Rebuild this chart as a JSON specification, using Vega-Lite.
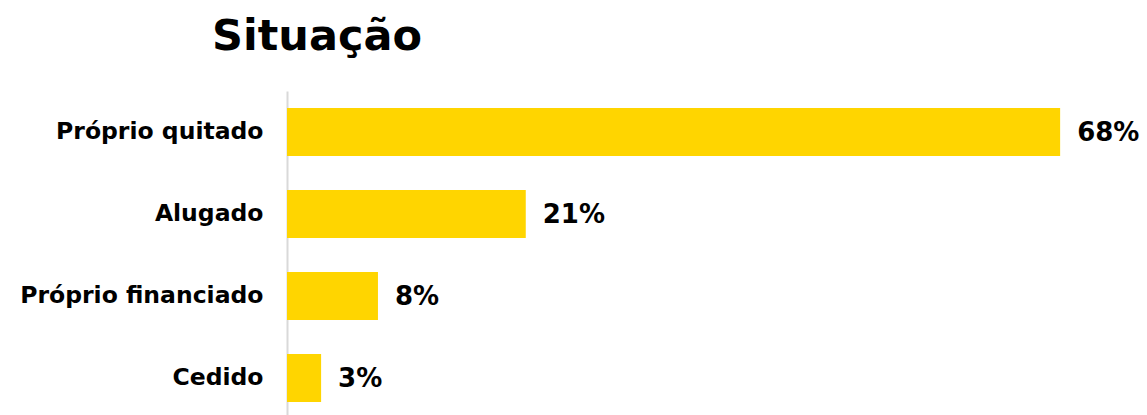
{
  "$schema": "https://vega.github.io/schema/vega-lite/v6.json",
  "autosize": "none",
  "padding": {"left": 287, "top": 91, "right": 0, "bottom": 0},
  "width": 860,
  "height": 328,
  "background": "white",
  "title": {
    "text": "Situação",
    "anchor": "start",
    "frame": "group",
    "dx": -75,
    "offset": -2,
    "baseline": "alphabetic",
    "font": "DejaVu Sans",
    "fontSize": 43,
    "fontWeight": "bold",
    "color": "#000000"
  },
  "data": {
    "values": [
      {"situacao": "Próprio quitado", "share": 0.68},
      {"situacao": "Alugado", "share": 0.21},
      {"situacao": "Próprio financiado", "share": 0.08},
      {"situacao": "Cedido", "share": 0.03}
    ]
  },
  "encoding": {
    "y": {
      "field": "situacao",
      "type": "nominal",
      "sort": null,
      "scale": {"paddingInner": 0.415, "paddingOuter": 0.2075},
      "axis": {
        "title": null,
        "ticks": false,
        "domain": true,
        "domainColor": "#d9d9d9",
        "domainWidth": 2,
        "labelPadding": 24,
        "labelLimit": 400,
        "labelFont": "DejaVu Sans",
        "labelFontSize": 23.5,
        "labelFontWeight": "bold",
        "labelColor": "#000000",
        "grid": false
      }
    },
    "x": {
      "field": "share",
      "type": "quantitative",
      "scale": {"domain": [0, 0.7564], "nice": false, "zero": true},
      "axis": null
    }
  },
  "layer": [
    {"mark": {"type": "bar", "color": "#FFD500"}},
    {
      "mark": {
        "type": "text",
        "align": "left",
        "baseline": "middle",
        "dx": 17,
        "dy": 1,
        "font": "DejaVu Sans",
        "fontSize": 26,
        "fontWeight": "bold",
        "color": "#000000"
      },
      "encoding": {"text": {"field": "share", "type": "quantitative", "format": ".0%"}}
    }
  ],
  "config": {"view": {"stroke": null}}
}
